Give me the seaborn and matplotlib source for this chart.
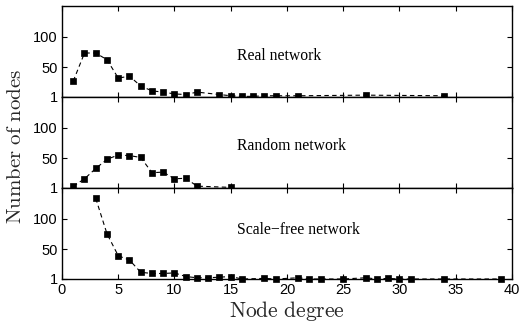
import matplotlib
matplotlib.use("Agg")
import matplotlib.pyplot as plt
import seaborn as sns
import pandas as pd

# Degree distributions (node degree -> number of nodes)
real_degree = [1, 2, 3, 4, 5, 6, 7, 8, 9, 10, 11, 12, 14, 15, 16, 17, 18, 19, 21, 27, 34]
real_count = [27, 73, 73, 62, 32, 35, 19, 11, 9, 6, 5, 9, 5, 3, 2, 2, 3, 3, 3, 4, 3]

random_degree = [1, 2, 3, 4, 5, 6, 7, 8, 9, 10, 11, 12, 15]
random_count = [4, 16, 33, 48, 55, 54, 51, 26, 27, 16, 17, 4, 2]

scalefree_degree = [3, 4, 5, 6, 7, 8, 9, 10, 11, 12, 13, 14, 15, 16, 18, 19,
                    21, 22, 23, 25, 27, 28, 29, 30, 31, 34, 39]
scalefree_count = [133, 75, 39, 32, 12, 10, 10, 11, 5, 3, 3, 4, 5, 1, 2, 1,
                   3, 1, 1, 1, 3, 1, 2, 1, 1, 1, 1]

panel_titles = ["Real network", "Random network", "Scale\u2212free network"]
x_ticks = [0, 5, 10, 15, 20, 25, 30, 35, 40]
y_ticks = [1, 50, 100]

sns.set_theme(style="white")
plt.rcParams["font.family"] = ["Liberation Sans", "DejaVu Sans"]
plt.rcParams["mathtext.fontset"] = "cm"

fig, axes = plt.subplots(3, 1, figsize=(5.21, 3.29), dpi=100, sharex=True)
fig.subplots_adjust(left=0.119, right=0.9827, top=0.9818, bottom=0.152, hspace=0)

series = [(real_degree, real_count), (random_degree, random_count),
          (scalefree_degree, scalefree_count)]
label_y = [68, 70, 81]

for ax, (deg, cnt), title, ty in zip(axes, series, panel_titles, label_y):
    df = pd.DataFrame({"degree": deg, "count": cnt})
    sns.lineplot(data=df, x="degree", y="count", ax=ax, color="black",
                 marker="s", markersize=4.8, markeredgecolor="black",
                 markeredgewidth=0.5, linestyle=(0, (4, 3)), linewidth=0.8,
                 clip_on=False)
    ax.set_xlim(0, 40)
    ax.set_ylim(1, 150)
    ax.set_yticks(y_ticks)
    ax.set_yticklabels([str(t) for t in y_ticks], fontsize=10.5)
    ax.set_xticks(x_ticks)
    ax.tick_params(axis="both", direction="in", length=3.5, width=0.8,
                   top=True, right=True, bottom=True, left=True, pad=3,
                   labelsize=10.5, colors="black")
    for s in ax.spines.values():
        s.set_color("black")
        s.set_linewidth(1.0)
    ax.set_xlabel("")
    ax.set_ylabel("")
    ax.text(15.55, ty, title, family=["Liberation Serif", "DejaVu Serif"],
            fontsize=11.3, ha="left", va="center", color="black")

for ax in axes[:2]:
    ax.tick_params(axis="x", labelbottom=False)

axes[2].set_xticklabels([str(t) for t in x_ticks], fontsize=10.5)
axes[2].set_xlabel(r"$\mathrm{Node\ degree}$", fontsize=15.5, labelpad=1)
fig.text(0.03, 0.555, r"$\mathrm{Number\ of\ nodes}$", fontsize=15,
         rotation=90, ha="center", va="center")

fig.savefig("out.png", dpi=100)
